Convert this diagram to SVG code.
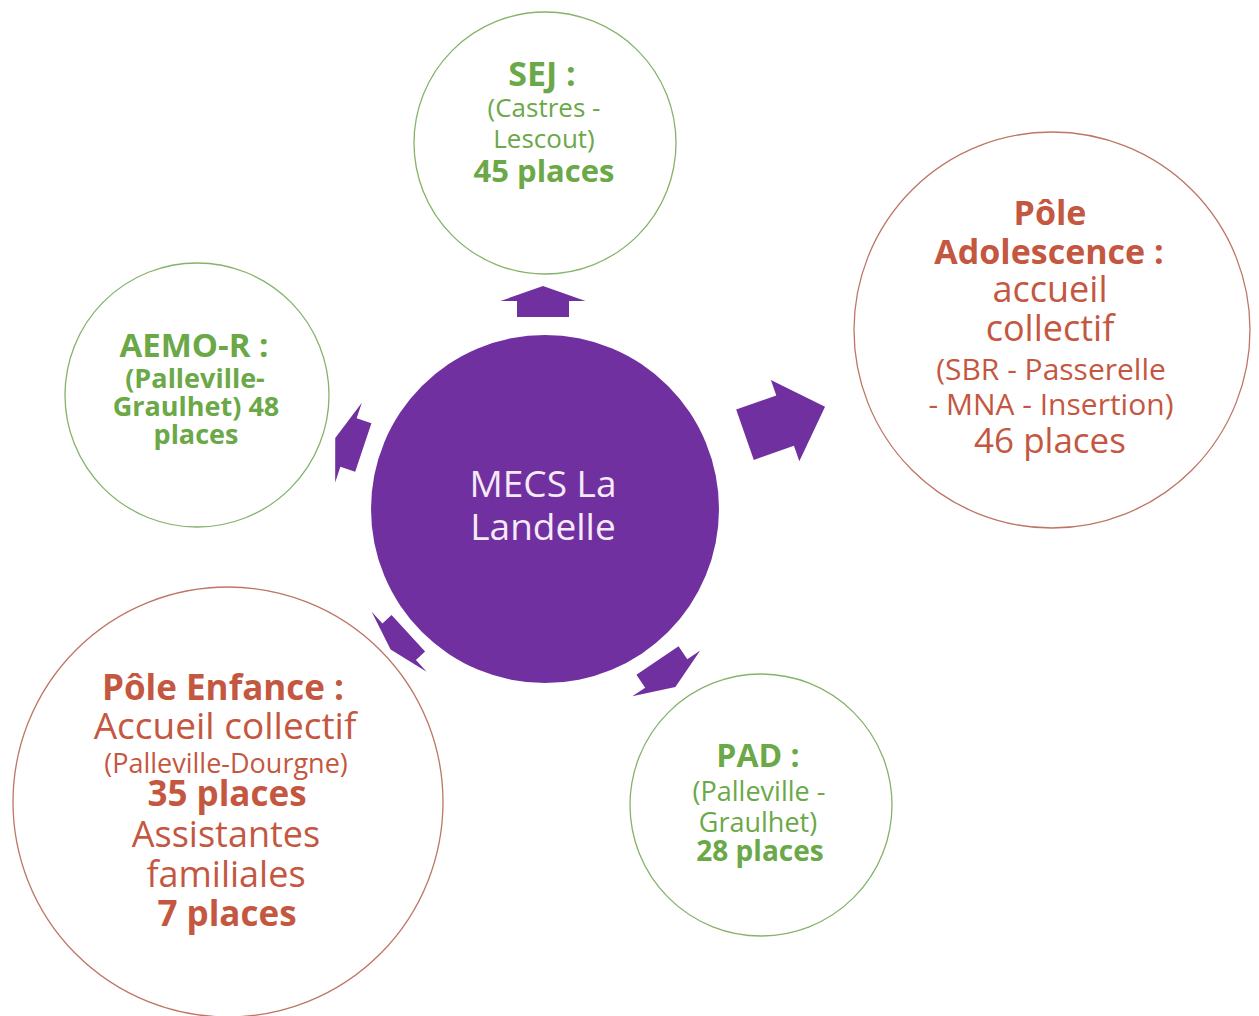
<svg xmlns="http://www.w3.org/2000/svg" width="1259" height="1016" viewBox="0 0 1259 1016">
<style>
  text { font-family: "Open Sans", "Noto Sans", "DejaVu Sans", sans-serif; text-anchor: middle; }
  .g { fill: #6BA847; }
  .r { fill: #C4573F; }
  .b { font-weight: bold; }
  .gc { fill: #FFFFFF; stroke: #86B26A; stroke-width: 1.3; }
  .rc { fill: #FFFFFF; stroke: #BE7565; stroke-width: 1.3; }
  .arr { fill: #7030A0; }
  .ctr { fill: #7030A0; }
  .wt { fill: #F5EAF6; }
</style>
<rect width="1259" height="1016" fill="#FFFFFF"/>

<g id="connectors">
  <polygon class="arr" transform="translate(543,317) rotate(-90)" points="0,-26 16,-26 16,-42.5 31,0 16,42.5 16,26 0,26"/>
  <polygon class="arr" transform="translate(745,434.7) rotate(-19.3)" points="0,-26.7 42.5,-26.7 42.5,-43 84.8,0 42.5,43 42.5,26.7 0,26.7"/>
  <polygon class="arr" transform="translate(363.3,447.5) rotate(198.5)" points="0,-25.6 15.6,-25.6 15.6,-42 29.6,0 15.6,42 15.6,25.6 0,25.6"/>
  <polygon class="arr" transform="translate(657.5,660.5) rotate(56)" points="0,-25.4 15.6,-25.4 15.6,-41 32,0 15.6,41 15.6,25.4 0,25.4"/>
  <polygon class="arr" transform="translate(408.3,633.3) rotate(137.5)" points="0,-24.8 12.4,-24.8 12.4,-40.7 24,0 12.4,40.7 12.4,24.8 0,24.8"/>
</g>

<g id="center">
  <circle class="ctr" cx="545" cy="509" r="174"/>
  <text class="wt" x="543" y="497" font-size="37">MECS La</text>
  <text class="wt" x="543" y="540" font-size="37">Landelle</text>
</g>

<g id="sej">
  <circle class="gc" cx="545" cy="143" r="131"/>
  <text class="g b" x="542" y="86" font-size="34">SEJ :</text>
  <text class="g" x="544" y="117" font-size="26">(Castres -</text>
  <text class="g" x="544" y="148" font-size="26">Lescout)</text>
  <text class="g b" x="544" y="182" font-size="31">45 places</text>
</g>

<g id="aemo">
  <circle class="gc" cx="197" cy="395" r="132"/>
  <text class="g b" x="194" y="357" font-size="33">AEMO-R :</text>
  <text class="g b" x="195" y="388" font-size="27">(Palleville-</text>
  <text class="g b" x="196" y="416" font-size="27">Graulhet) 48</text>
  <text class="g b" x="196" y="444" font-size="27">places</text>
</g>

<g id="pole-adolescence">
  <circle class="rc" cx="1052" cy="330" r="198"/>
  <text class="r b" x="1050" y="225" font-size="34">Pôle</text>
  <text class="r b" x="1049" y="264" font-size="34">Adolescence :</text>
  <text class="r" x="1050" y="302" font-size="36">accueil</text>
  <text class="r" x="1050" y="341" font-size="36">collectif</text>
  <text class="r" x="1051" y="380" font-size="30">(SBR - Passerelle</text>
  <text class="r" x="1051" y="415" font-size="30">- MNA - Insertion)</text>
  <text class="r" x="1050" y="453" font-size="35">46 places</text>
</g>

<g id="pole-enfance">
  <circle class="rc" cx="228" cy="802" r="215"/>
  <text class="r b" x="223" y="700" font-size="35">Pôle Enfance :</text>
  <text class="r" x="225" y="739" font-size="37">Accueil collectif</text>
  <text class="r" x="226" y="773" font-size="27">(Palleville-Dourgne)</text>
  <text class="r b" x="227" y="806" font-size="35">35 places</text>
  <text class="r" x="226" y="847" font-size="36">Assistantes</text>
  <text class="r" x="226" y="887" font-size="36">familiales</text>
  <text class="r b" x="227" y="926" font-size="35">7 places</text>
</g>

<g id="pad">
  <circle class="gc" cx="761" cy="805" r="131"/>
  <text class="g b" x="758" y="767" font-size="32">PAD :</text>
  <text class="g" x="759" y="801" font-size="27">(Palleville -</text>
  <text class="g" x="758" y="832" font-size="27">Graulhet)</text>
  <text class="g b" x="760" y="861" font-size="28">28 places</text>
</g>
</svg>
